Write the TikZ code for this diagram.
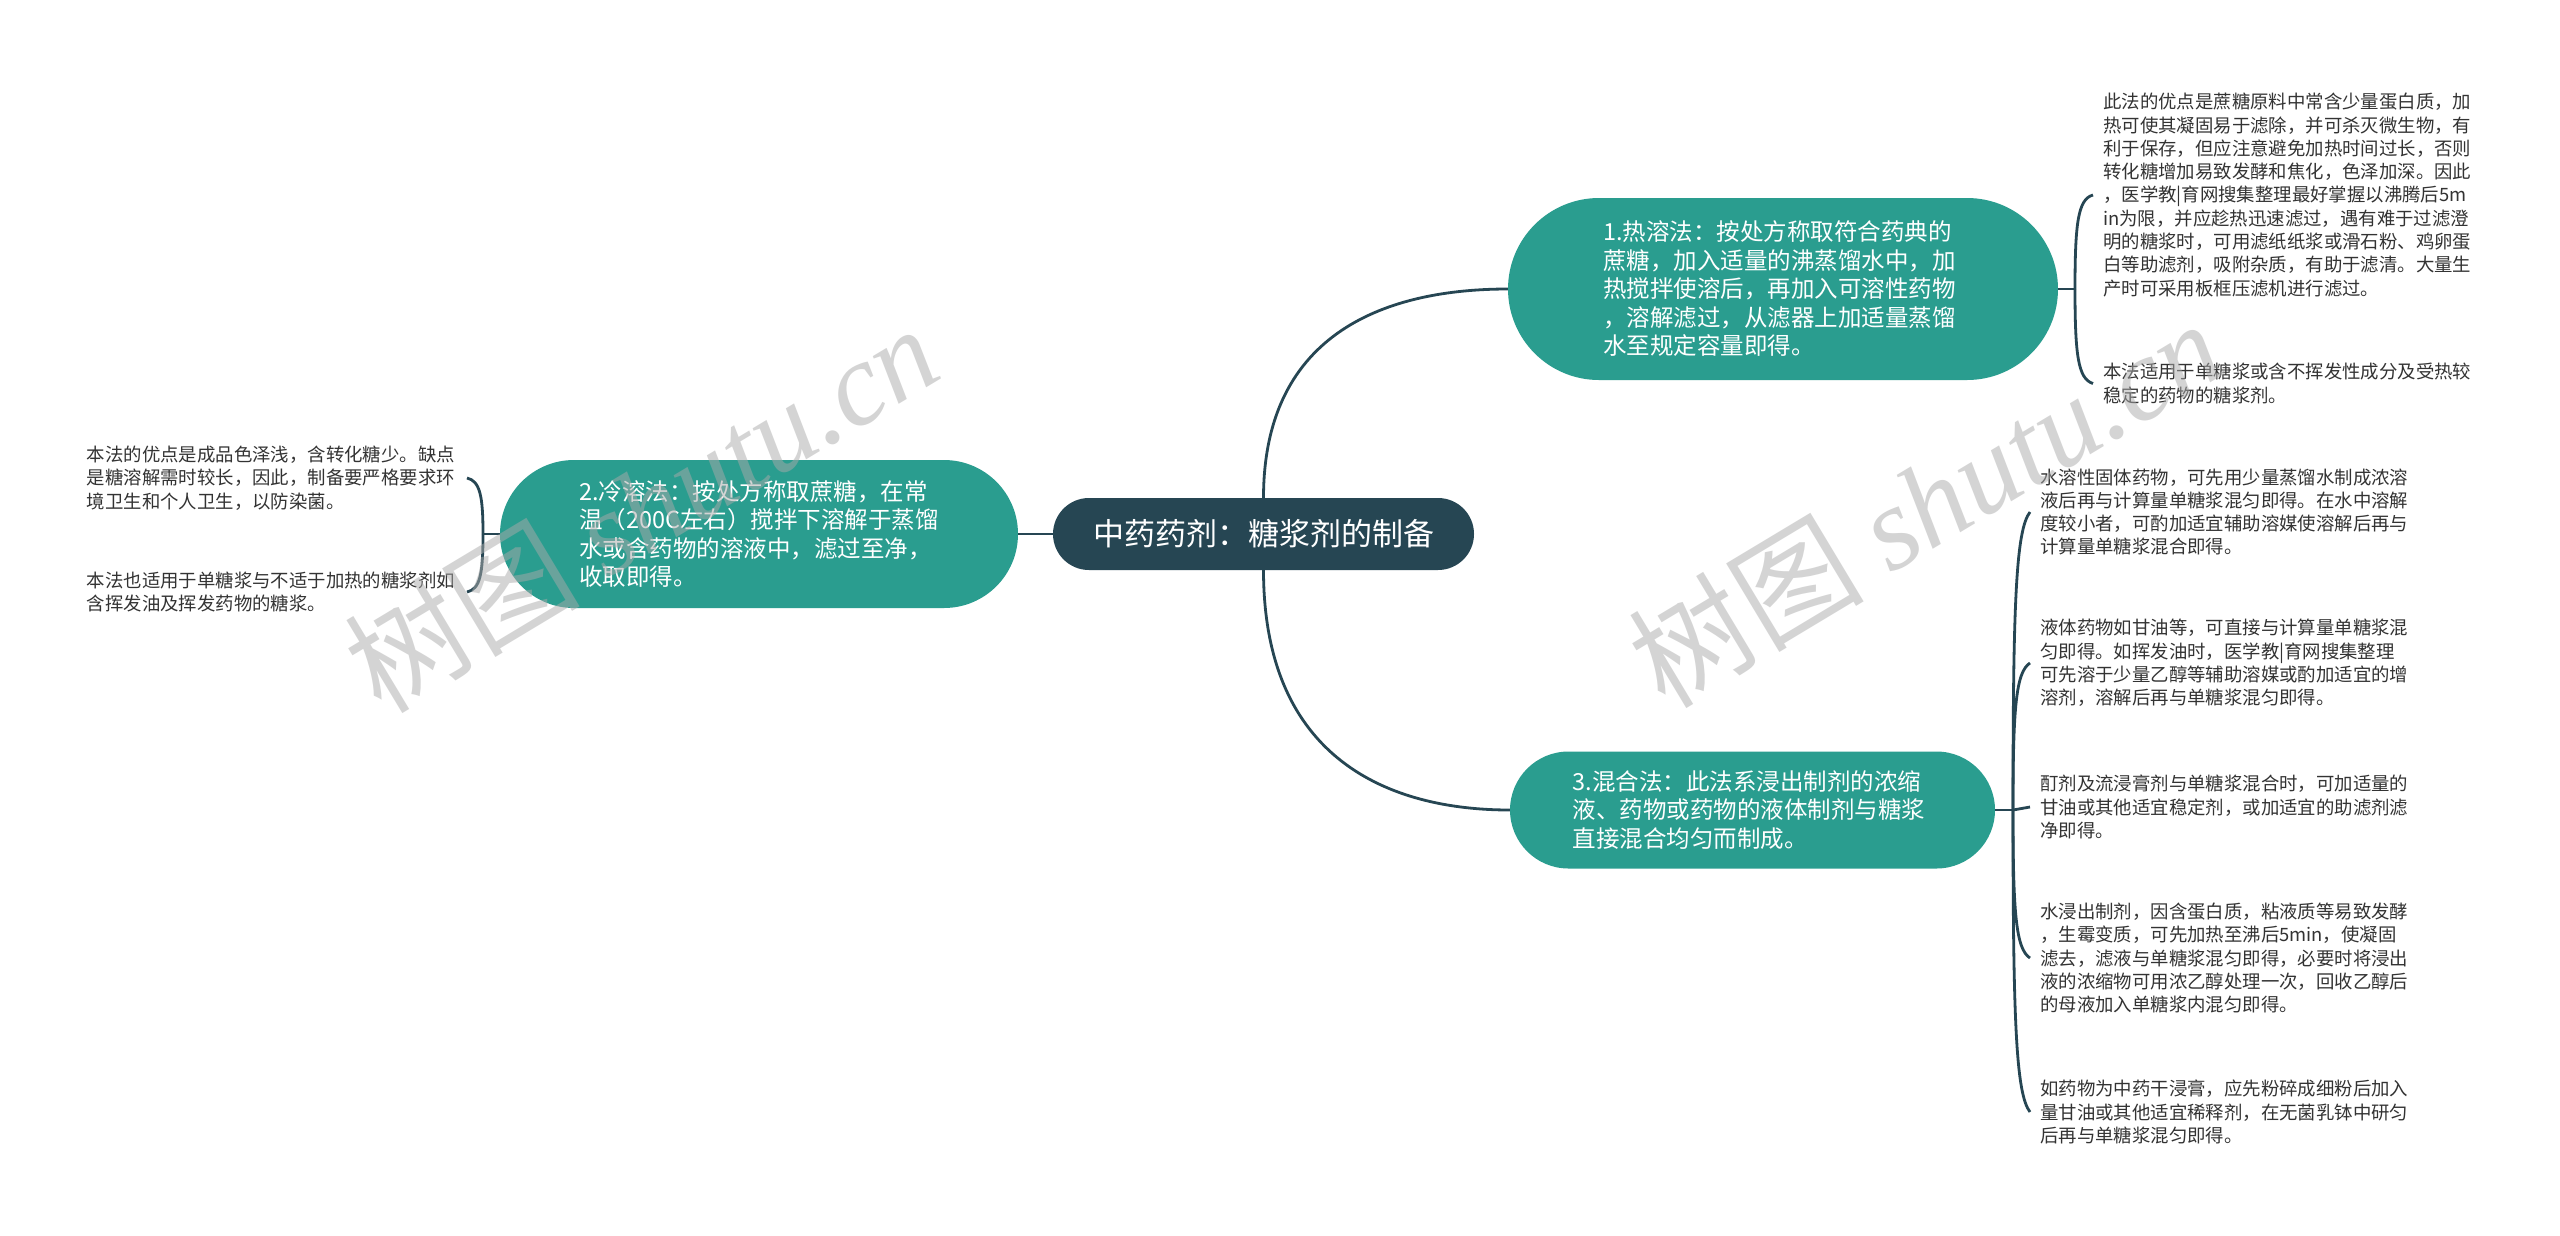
\documentclass[tikz,border=0pt]{standalone}
\usepackage{fontspec}
\setmainfont{Noto Sans CJK SC}
\newfontfamily\wmlatin{Liberation Serif}
\definecolor{tealc}{HTML}{2A9D8F}
\definecolor{rootc}{HTML}{264653}
\definecolor{linec}{HTML}{264653}
\definecolor{leaftxt}{HTML}{333333}
\definecolor{wmc}{HTML}{AAAAAA}
\tikzset{
 topic/.style={fill=tealc, text=white, font=\fontsize{23.5}{28.5}\selectfont, align=left, text width=360pt, inner sep=0pt},
 rootbox/.style={fill=rootc, text=white, font=\fontsize{31}{36}\selectfont, inner sep=0pt, minimum width=421pt, minimum height=72pt, rounded corners=36pt},
 leaf/.style={text=leaftxt, font=\fontsize{18.4}{23.3}\selectfont, align=left, text width=370pt, inner xsep=10pt, inner ysep=0pt},
 conn/.style={draw=linec, line width=2.8pt},
 wmark/.style={text=wmc, opacity=0.5, rotate=31, font=\fontsize{118}{118}\selectfont}
}
\begin{document}
\begin{tikzpicture}[x=1pt,y=-1pt]
\fill[white] (0,0) rectangle (2560,1235);
\useasboundingbox (0,0) rectangle (2560,1235);

% central and main topics
\node[rootbox] (root) at (1263.5,534) {中药药剂：糖浆剂的制备};
\node[topic, minimum width=550pt, minimum height=182pt, rounded corners=91pt] (n1) at (1783,289) {1.热溶法：按处方称取符合药典的\\蔗糖，加入适量的沸蒸馏水中，加\\热搅拌使溶后，再加入可溶性药物\\，溶解滤过，从滤器上加适量蒸馏\\水至规定容量即得。};
\node[topic, minimum width=518pt, minimum height=148pt, rounded corners=74pt] (n2) at (759,534) {2.冷溶法：按处方称取蔗糖，在常\\温（200C左右）搅拌下溶解于蒸馏\\水或含药物的溶液中，滤过至净，\\收取即得。};
\node[topic, minimum width=485pt, minimum height=117pt, rounded corners=58.5pt] (n3) at (1752.5,810) {3.混合法：此法系浸出制剂的浓缩\\液、药物或药物的液体制剂与糖浆\\直接混合均匀而制成。};

% junctions
\coordinate (j1) at (2075,289);
\coordinate (j2) at (483,534);
\coordinate (j3) at (2013,810);

% leaves
\node[leaf, anchor=west] (l1a) at (2093,195) {此法的优点是蔗糖原料中常含少量蛋白质，加\\热可使其凝固易于滤除，并可杀灭微生物，有\\利于保存，但应注意避免加热时间过长，否则\\转化糖增加易致发酵和焦化，色泽加深。因此\\，医学教|育网搜集整理最好掌握以沸腾后5m\\in为限，并应趁热迅速滤过，遇有难于过滤澄\\明的糖浆时，可用滤纸纸浆或滑石粉、鸡卵蛋\\白等助滤剂，吸附杂质，有助于滤清。大量生\\产时可采用板框压滤机进行滤过。};
\node[leaf, anchor=west] (l1b) at (2093,383.5) {本法适用于单糖浆或含不挥发性成分及受热较\\稳定的药物的糖浆剂。};

\node[leaf, anchor=east] (l2a) at (467,478) {本法的优点是成品色泽浅，含转化糖少。缺点\\是糖溶解需时较长，因此，制备要严格要求环\\境卫生和个人卫生，以防染菌。};
\node[leaf, anchor=east] (l2b) at (467,592) {本法也适用于单糖浆与不适于加热的糖浆剂如\\含挥发油及挥发药物的糖浆。};

\node[leaf, anchor=west] (l3a) at (2030,512) {水溶性固体药物，可先用少量蒸馏水制成浓溶\\液后再与计算量单糖浆混匀即得。在水中溶解\\度较小者，可酌加适宜辅助溶媒使溶解后再与\\计算量单糖浆混合即得。};
\node[leaf, anchor=west] (l3b) at (2030,663) {液体药物如甘油等，可直接与计算量单糖浆混\\匀即得。如挥发油时，医学教|育网搜集整理\\可先溶于少量乙醇等辅助溶媒或酌加适宜的增\\溶剂，溶解后再与单糖浆混匀即得。};
\node[leaf, anchor=west] (l3c) at (2030,807) {酊剂及流浸膏剂与单糖浆混合时，可加适量的\\甘油或其他适宜稳定剂，或加适宜的助滤剂滤\\净即得。};
\node[leaf, anchor=west] (l3d) at (2030,958) {水浸出制剂，因含蛋白质，粘液质等易致发酵\\，生霉变质，可先加热至沸后5min，使凝固\\滤去，滤液与单糖浆混匀即得，必要时将浸出\\液的浓缩物可用浓乙醇处理一次，回收乙醇后\\的母液加入单糖浆内混匀即得。};
\node[leaf, anchor=west] (l3e) at (2030,1112) {如药物为中药干浸膏，应先粉碎成细粉后加入\\量甘油或其他适宜稀释剂，在无菌乳钵中研匀\\后再与单糖浆混匀即得。};

% connectors
\draw[conn] (root.west) -- (n2.east);
\draw[conn] (root.north) .. controls (1263.5,330) and (1390,289) .. (n1.west);
\draw[conn] (root.south) .. controls (1263.5,760) and (1390,810) .. (n3.west);

\draw[conn] (n1.east) -- (j1);
\draw[conn] (j1) .. controls (2075,223) and (2078,199) .. (l1a.west);
\draw[conn] (j1) .. controls (2075,355) and (2078,379) .. (l1b.west);

\draw[conn] (n2.west) -- (j2);
\draw[conn] (j2) .. controls (483,496) and (480,481) .. (l2a.east);
\draw[conn] (j2) .. controls (483,575) and (480,589) .. (l2b.east);

\draw[conn] (n3.east) -- (j3);
\draw[conn] (j3) .. controls (2013,602) and (2016,530) .. (l3a.west);
\draw[conn] (j3) .. controls (2013,707) and (2016,672) .. (l3b.west);
\draw[conn] (j3) -- (l3c.west);
\draw[conn] (j3) .. controls (2013,914) and (2016,949) .. (l3d.west);
\draw[conn] (j3) .. controls (2013,1021) and (2016,1094) .. (l3e.west);

% watermarks
\node[wmark] (wm1) at (641,507) {树图 {\wmlatin\itshape shutu.cn}};
\node[wmark] (wm2) at (1925,502) {树图 {\wmlatin\itshape shutu.cn}};
\end{tikzpicture}
\end{document}
